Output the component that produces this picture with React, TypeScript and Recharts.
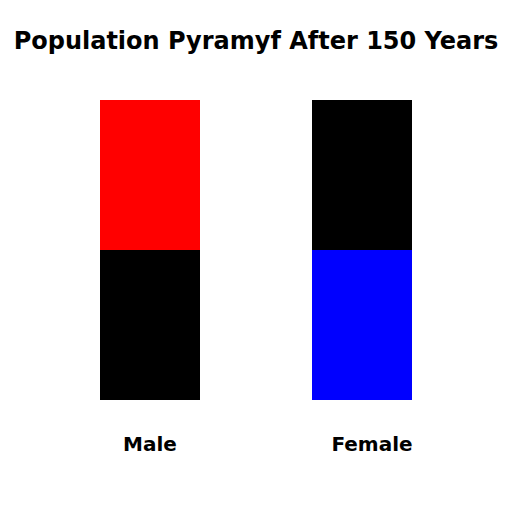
import React from "react";
import { Bar, BarChart, Cell, XAxis, YAxis } from "recharts";

const categories = ["Male", "Female"];
const lowerValues = [1, 1];
const upperValues = [1, 1];
const lowerColors = ["#000000", "#0000ff"];
const upperColors = ["#ff0000", "#000000"];
const labelShift = [0, 10];

const data = categories.map((name, i) => ({ name, lower: lowerValues[i], upper: upperValues[i] }));

const font = "'DejaVu Sans', sans-serif";

function Tick(props: any) {
  const { x, y, payload, index } = props;
  return (
    <text x={x + (labelShift[index] ?? 0)} y={y} dy={43} textAnchor="middle"
      fontFamily={font} fontWeight="bold" fontSize={20} fill="#000">
      {payload.value}
    </text>
  );
}

export default function App() {
  return (
    <div style={{ position: "absolute", left: 0, top: 0, width: 512, height: 512, background: "#fff" }}>
      <div style={{
        position: "absolute", left: 0, top: 27, width: 512, textAlign: "center",
        fontFamily: font, fontWeight: "bold", fontSize: 24, lineHeight: "28px",
      }}>
        Population Pyramyf After 150 Years
      </div>
      <BarChart width={512} height={512} data={data}
        margin={{ top: 100, right: 44, left: 44, bottom: 0 }}>
        <XAxis dataKey="name" axisLine={false} tickLine={false} tick={<Tick />} height={112} interval={0} />
        <YAxis hide domain={[0, 2]} />
        <Bar dataKey="lower" stackId="a" barSize={100} isAnimationActive={false}>
          {data.map((_, i) => <Cell key={i} fill={lowerColors[i]} />)}
        </Bar>
        <Bar dataKey="upper" stackId="a" barSize={100} isAnimationActive={false}>
          {data.map((_, i) => <Cell key={i} fill={upperColors[i]} />)}
        </Bar>
      </BarChart>
    </div>
  );
}
